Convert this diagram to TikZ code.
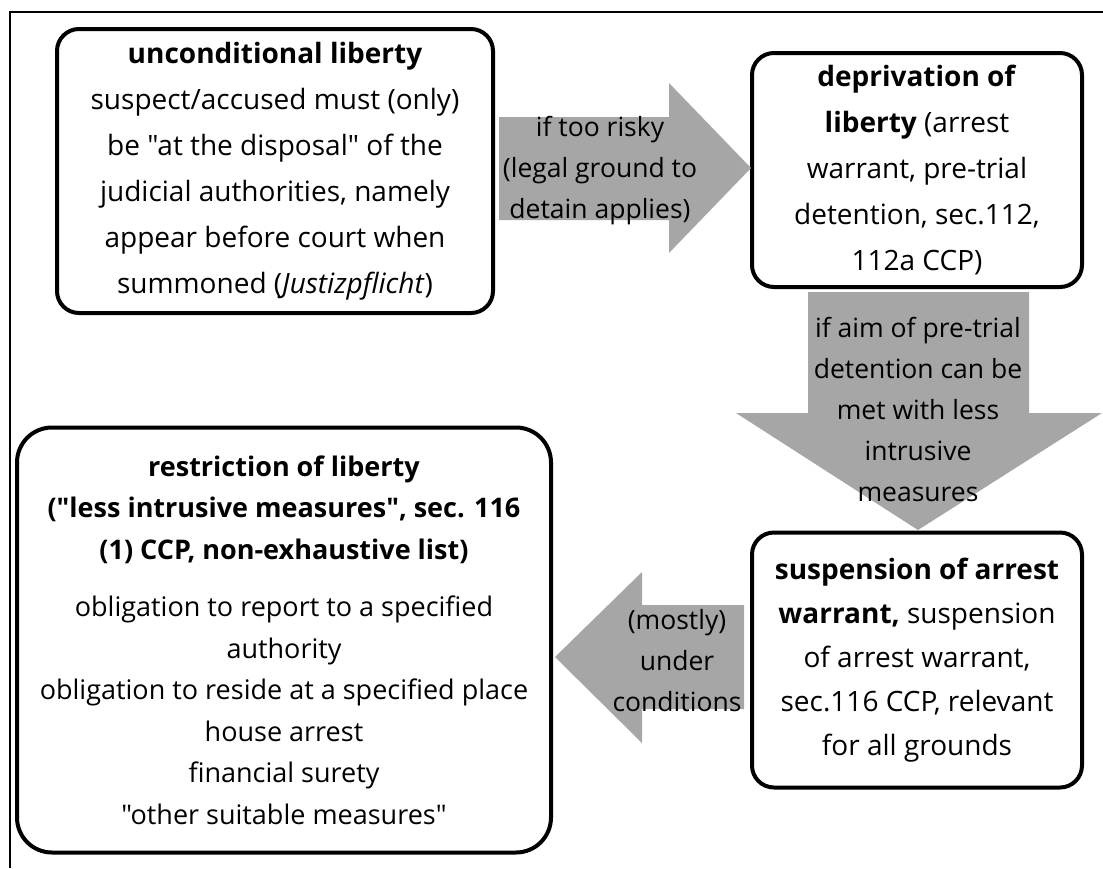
\documentclass[tikz,border=0pt]{standalone}
\usepackage{fontspec}
\setmainfont{Open Sans}[Ligatures=TeXOff]
\definecolor{arrowgray}{RGB}{166,166,166}
\tikzset{
  libbox/.style={draw, line width=4pt, rounded corners=22pt, align=center, inner sep=0pt},
  arrowtext/.style={align=center, inner sep=0pt, font=\fontsize{26.5}{41}\selectfont},
}
\begin{document}
\begin{tikzpicture}[x=1pt, y=-1pt]
\useasboundingbox (0,0) rectangle (1103,868);
\draw[line width=1.3pt] (10,868) -- (10,12) -- (1103,12);

% the four stages
\node[libbox, minimum width=436pt, minimum height=284pt, font=\fontsize{28}{46}\selectfont] (uncond) at (275,171)
  {\textbf{unconditional liberty}\\suspect/accused must (only)\\be "at the disposal" of the\\judicial authorities, namely\\appear before court when\\summoned (\textit{Justizpflicht})};
\node[libbox, minimum width=330pt, minimum height=234pt, font=\fontsize{28}{46}\selectfont] (depriv) at (917,170)
  {\textbf{deprivation of}\\\textbf{liberty} (arrest\\warrant, pre-trial\\detention, sec.112,\\112a CCP)};
\node[libbox, minimum width=330pt, minimum height=255pt, font=\fontsize{28}{44}\selectfont] (suspend) at (917,660)
  {\textbf{suspension of arrest}\\\textbf{warrant,} suspension\\of arrest warrant,\\sec.116 CCP, relevant\\for all grounds};
\node[libbox, rounded corners=35pt, minimum width=534pt, minimum height=425pt, font=\fontsize{27}{41.5}\selectfont] (restrict) at (284,640)
  {\textbf{restriction of liberty}\\\textbf{("less intrusive measures", sec. 116}\\\textbf{(1) CCP, non-exhaustive list)}\\[16pt]
   obligation to report to a specified\\authority\\obligation to reside at a specified place\\house arrest\\financial surety\\"other suitable measures"};

% block arrows
\fill[arrowgray] (499,117) -- (669,117) -- (669,83) -- (751,168) -- (669,253) -- (669,220) -- (499,220) -- cycle;
\node[arrowtext] (risky) at (600,171) {if too risky\\(legal ground to\\detain applies)};

\fill[arrowgray] (808,292) -- (1029,292) -- (1029,413) -- (1102,413) -- (918,530) -- (736,413) -- (808,413) -- cycle;
\node[arrowtext] (aim) at (918,409) {if aim of pre-trial\\detention can be\\met with less\\intrusive\\measures};

\fill[arrowgray] (744,605) -- (642,605) -- (642,572) -- (555,657) -- (642,743) -- (642,709) -- (744,709) -- cycle;
\node[arrowtext] (cond) at (677,661) {(mostly)\\under\\conditions};
\end{tikzpicture}
\end{document}
